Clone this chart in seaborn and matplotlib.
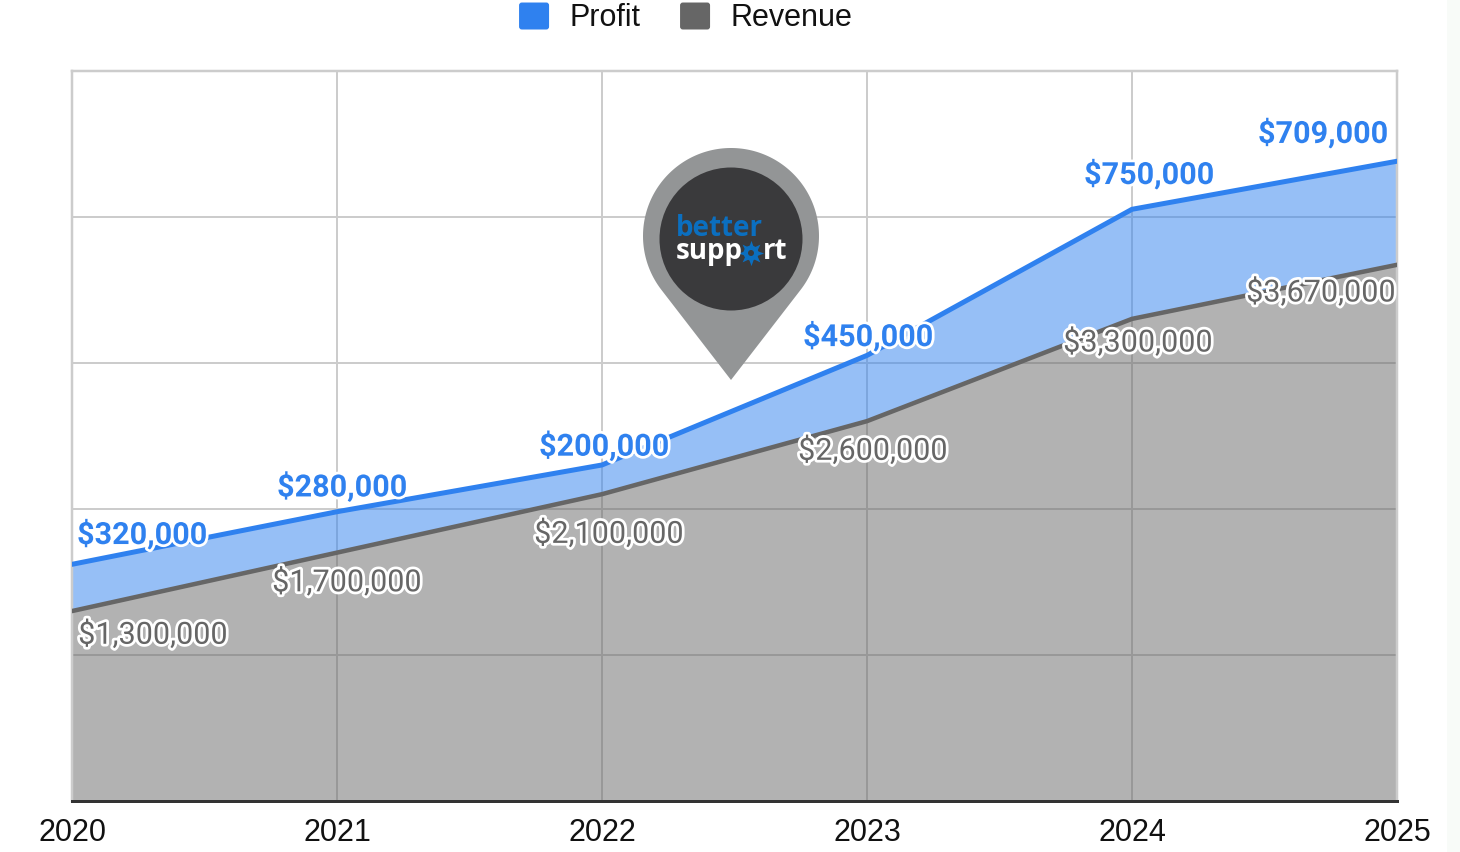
import numpy as np
import pandas as pd
import matplotlib
matplotlib.use("Agg")
import matplotlib.pyplot as plt
import matplotlib.patheffects as pe
from matplotlib.legend_handler import HandlerPatch
from matplotlib.patches import Circle, FancyBboxPatch, Patch, Polygon, Rectangle
import seaborn as sns

# Yearly figures, in dollars
years = [2020, 2021, 2022, 2023, 2024, 2025]
revenue = [1300000, 1700000, 2100000, 2600000, 3300000, 3670000]
profit = [320000, 280000, 200000, 450000, 750000, 709000]
y_ticks = [0, 1000000, 2000000, 3000000, 4000000, 5000000]

# Label offsets from their points, in pixels (right, up)
profit_offsets = [(70, 30), (5, 25), (2, 19), (1, 19), (17, 35), (-74, 28)]
revenue_offsets = [(81, -23), (10, -29), (7, -39), (6, -29), (6, -23), (-76, -27)]

BLUE = "#2f81ef"
GREY = "#666666"
GRID = "#cccccc"
W, H = 1460, 852
PX = 72 / 100  # points per pixel at 100 dpi

sns.set_theme(style="white")
plt.rcParams["font.family"] = ["Liberation Sans", "DejaVu Sans"]

fig = plt.figure(figsize=(W / 100, H / 100), dpi=100, facecolor="white")
ax = fig.add_axes([72 / W, 1 - 801 / H, (1397 - 72) / W, (801 - 70.5) / H])

rev = np.array(revenue)
total = rev + np.array(profit)
frame = pd.DataFrame({"year": years, "revenue": rev, "total": total})

ax.fill_between(frame["year"], 0, frame["revenue"], color=GREY, alpha=0.5, lw=0, zorder=2)
ax.fill_between(frame["year"], frame["revenue"], frame["total"], color=BLUE, alpha=0.5, lw=0, zorder=2)
sns.lineplot(data=frame, x="year", y="revenue", color=GREY, lw=4.5 * PX, ax=ax, zorder=3)
sns.lineplot(data=frame, x="year", y="total", color=BLUE, lw=5 * PX, ax=ax, zorder=3)

ax.set_xlim(years[0], years[-1])
ax.set_ylim(y_ticks[0], y_ticks[-1])
ax.set_xticks(years)
ax.set_yticks(y_ticks)
ax.set_xlabel("")
ax.set_ylabel("")
ax.set_yticklabels([])
ax.tick_params(axis="x", length=0, pad=12.5, labelsize=22, labelcolor="#111111")
ax.tick_params(axis="y", length=0)
ax.set_axisbelow(True)
ax.grid(True, color=GRID, lw=2 * PX)
for side in ("left", "right", "top"):
    ax.spines[side].set_color(GRID)
    ax.spines[side].set_linewidth(2.5 * PX)
ax.spines["bottom"].set_color("#333333")
ax.spines["bottom"].set_linewidth(3 * PX)
ax.spines["bottom"].set_zorder(6)


def put_labels(values, tops, offsets, color, weight):
    halo = [pe.withStroke(linewidth=5.5 * PX, foreground="white")]
    for year, value, top, (dx, dy) in zip(years, values, tops, offsets):
        ax.annotate(
            f"${value:,}", xy=(year, top), xytext=(dx * PX, dy * PX),
            textcoords="offset points", ha="center", va="center",
            color=color, fontsize=22, fontweight=weight,
            family=["Roboto", "DejaVu Sans"], path_effects=halo,
            annotation_clip=False, zorder=5,
        )


put_labels(revenue, rev, revenue_offsets, GREY, "normal")
put_labels(profit, total, profit_offsets, BLUE, "bold")


class RoundedSwatch(HandlerPatch):
    def create_artists(self, legend, orig, xdescent, ydescent, width, height, fontsize, trans):
        box = FancyBboxPatch(
            (-xdescent + 1.5, -ydescent + 1.5), width - 3, height - 3,
            boxstyle="round,pad=1.5,rounding_size=2", facecolor=orig.get_facecolor(),
            edgecolor="none", transform=trans,
        )
        return [box]


handles = [Patch(facecolor=BLUE, label="Profit"), Patch(facecolor=GREY, label="Revenue")]
fig.legend(
    handles=handles, loc="center", bbox_to_anchor=(685.5 / W, 1 - 18 / H),
    ncol=2, frameon=False, fontsize=22, handlelength=30 * PX / 22,
    handleheight=30 * PX / 22, handletextpad=20 * PX / 22,
    columnspacing=40 * PX / 22, borderpad=0, labelcolor="#111111",
    handler_map={Patch: RoundedSwatch()},
)

# Overlay in pixel coordinates for the badge and the page edge
over = fig.add_axes([0, 0, 1, 1], zorder=10)
over.set_xlim(0, W)
over.set_ylim(H, 0)
over.axis("off")
over.patch.set_alpha(0)

over.add_patch(Rectangle((1447, 0), 13, H, facecolor="#f8fbf8", edgecolor="none"))

# Map pin: an arc over the top that runs tangentially into the tip
cx, cy, radius, tip_y = 731, 236, 88, 380
half = np.arccos(radius / (tip_y - cy))
angles = np.linspace(-np.pi / 2 + half, 1.5 * np.pi - half, 160)
outline = np.column_stack([cx + radius * np.cos(angles), cy - radius * np.sin(angles)])
outline = np.vstack([outline, [cx, tip_y]])
over.add_patch(Polygon(outline, closed=True, facecolor="#939596", edgecolor="none"))
over.add_patch(Circle((731, 239), 71.5, facecolor="#3a3a3c", edgecolor="none"))

badge = dict(family=["Open Sans", "DejaVu Sans"], fontweight="bold", va="baseline", fontsize=20)
over.text(676, 236, "better", color="#0b6fc0", ha="left", **badge)
over.text(676, 259, "supp", color="white", ha="left", **badge)
over.text(787, 259, "rt", color="white", ha="right", **badge)
# Gear standing in for the "o" of the wordmark
over.scatter([751], [253], s=330, marker=(8, 1, 0), color="#0b6fc0", lw=0)
over.add_patch(Circle((751, 253), 7.5, facecolor="#0b6fc0", edgecolor="none"))
over.add_patch(Circle((751, 253), 3, facecolor="#3a3a3c", edgecolor="none"))

fig.savefig("out.png", dpi=100)
